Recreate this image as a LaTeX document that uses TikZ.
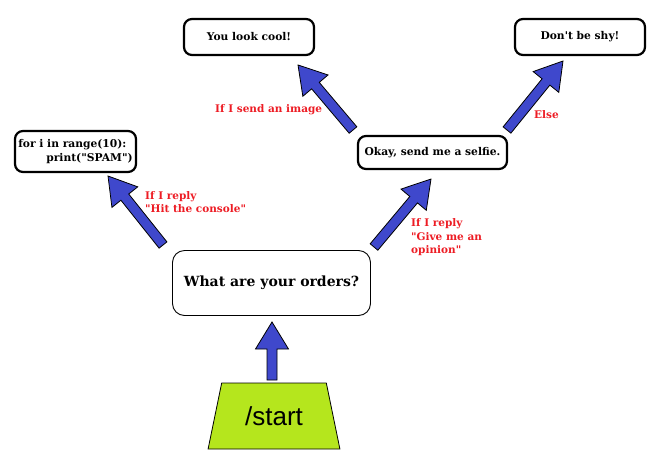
\documentclass[tikz,border=0pt]{standalone}
\usepackage{fontspec}
\usetikzlibrary{calc,shapes.geometric}
\newfontfamily\startfont{Liberation Sans}
\newfontfamily\boxfont{DejaVu Serif}
\definecolor{arrowblue}{RGB}{63,72,204}
\definecolor{replyred}{RGB}{237,28,36}
\definecolor{startgreen}{RGB}{181,230,29}
\def\ShaftHalf{5pt}
\def\HeadHalf{16.5pt}
\def\HeadLength{27pt}
% fat block arrow from #1 to the tip #2
\newcommand\fatarrow[2]{%
  \coordinate (h) at ($(#2)!\HeadLength!(#1)$);
  \draw[blockarrow] ($(#1)!\ShaftHalf!-90:(#2)$) -- ($(h)!\ShaftHalf!-90:(#2)$)
    -- ($(h)!\HeadHalf!-90:(#2)$) -- (#2) -- ($(h)!\HeadHalf!90:(#2)$)
    -- ($(h)!\ShaftHalf!90:(#2)$) -- ($(#1)!\ShaftHalf!90:(#2)$) -- cycle;}
\tikzset{
  answer/.style={draw, line width=2.2pt, rounded corners=8pt, inner sep=2pt,
    font=\boxfont\fontsize{10.7}{13.5}\selectfont\bfseries},
  question/.style={draw, line width=0.9pt, rounded corners=12pt,
    minimum width=198pt, minimum height=65pt,
    font=\boxfont\fontsize{14}{16}\selectfont\bfseries},
  cond/.style={text=replyred, align=left, inner sep=0pt, anchor=west,
    font=\boxfont\fontsize{10.5}{13.5}\selectfont\bfseries},
  blockarrow/.style={draw=black, fill=arrowblue, line width=0.8pt, line join=miter},
}
\begin{document}
\begin{tikzpicture}[x=1pt,y=-1pt]
  \useasboundingbox (0,0) rectangle (659,459);
  % boxes
  \node[trapezium, trapezium angle=72, trapezium stretches=true, draw, line width=0.8pt,
    fill=startgreen, minimum width=132pt, minimum height=66pt,
    font=\startfont\fontsize{26}{30}\selectfont] (start) at (274,416) {/start};
  \node[question] (orders) at (271.5,283) {What are your orders?};
  \node[answer, align=left, minimum width=121pt, minimum height=41pt] (code) at (75.5,151.5)
    {for i in range(10):\\\hspace*{28pt}print("SPAM")};
  \node[answer, minimum width=149pt, minimum height=33pt] (selfie) at (432.5,152.5)
    {Okay, send me a selfie.};
  \node[answer, minimum width=130pt, minimum height=36pt] (cool) at (249,37) {You look cool!};
  \node[answer, minimum width=130pt, minimum height=36pt] (shy) at (580,37) {Don't be shy!};
  % arrow ends
  \coordinate (s0) at (272,380);
  \coordinate (s1) at (272,322);
  \coordinate (c0) at (163,245);
  \coordinate (c1) at (108,176);
  \coordinate (f0) at (374,247);
  \coordinate (f1) at (431,179);
  \coordinate (l0) at (353,130);
  \coordinate (l1) at (298,65);
  \coordinate (y0) at (507,130);
  \coordinate (y1) at (563,61);
  % arrows
  \fatarrow{s0}{s1}
  \fatarrow{c0}{c1}
  \fatarrow{f0}{f1}
  \fatarrow{l0}{l1}
  \fatarrow{y0}{y1}
  % labels
  \node[cond] (hitlabel) at (145,202) {If I reply\\"Hit the console"};
  \node[cond] (opinionlabel) at (411,237.5) {If I reply\\"Give me an\\opinion"};
  \node[cond] (imagelabel) at (215,110) {If I send an image};
  \node[cond] (elselabel) at (534,115) {Else};
\end{tikzpicture}
\end{document}
